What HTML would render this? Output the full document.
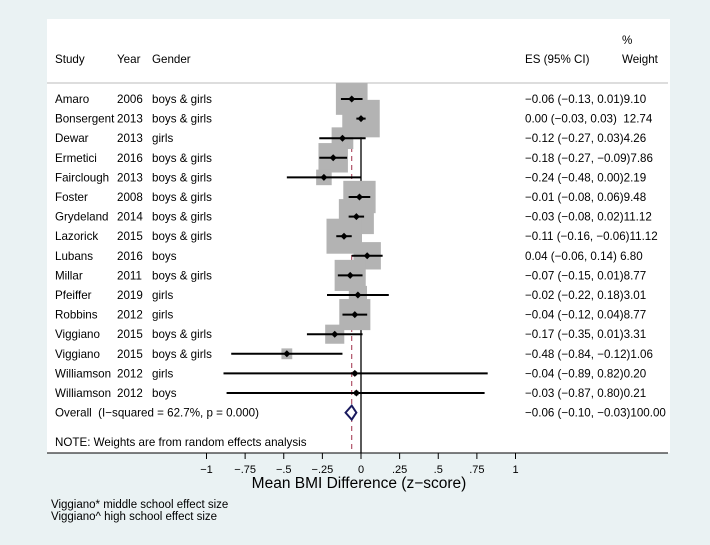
<!DOCTYPE html>
<html><head><meta charset="utf-8">
<style>
html,body{margin:0;padding:0;background:#eaf2f3;}
svg{display:block;font-family:"Liberation Sans",Arial,sans-serif;}
svg text{white-space:pre;}
</style></head>
<body>
<svg id="chart" width="710" height="545" viewBox="0 0 710 545">
<rect x="0" y="0" width="710" height="545" fill="#eaf2f3"/>
<rect x="47" y="19" width="623" height="434" fill="#ffffff"/>
<line x1="47" y1="83" x2="668" y2="83" stroke="#bbbbbb" stroke-width="1"/>
<g font-size="11.6" fill="#000">
<text x="55" y="63">Study</text>
<text x="117" y="63">Year</text>
<text x="152" y="63">Gender</text>
<text x="525" y="63">ES (95% CI)</text>
<text x="622" y="44">%</text>
<text x="622" y="63">Weight</text>
</g>
<g id="rows"></g>
<g id="marks"></g>
<line x1="47" y1="453" x2="668" y2="453" stroke="#000" stroke-width="1"/>
<g id="ticks"></g>
<text x="359" y="488" font-size="15.5" text-anchor="middle">Mean BMI Difference (z−score)</text>
<text x="51" y="508" font-size="11.5">Viggiano* middle school effect size</text>
<text x="51" y="520" font-size="11.5">Viggiano^ high school effect size</text>
</svg>
<script>
const studies=["Amaro","Bonsergent","Dewar","Ermetici","Fairclough","Foster","Grydeland","Lazorick","Lubans","Millar","Pfeiffer","Robbins","Viggiano","Viggiano","Williamson","Williamson"];
const years=["2006","2013","2013","2016","2013","2008","2014","2015","2016","2011","2019","2012","2015","2015","2012","2012"];
const genders=["boys & girls","boys & girls","girls","boys & girls","boys & girls","boys & girls","boys & girls","boys & girls","boys","boys & girls","girls","girls","boys & girls","boys & girls","girls","boys"];
const es=[-0.06,0.00,-0.12,-0.18,-0.24,-0.01,-0.03,-0.11,0.04,-0.07,-0.02,-0.04,-0.17,-0.48,-0.04,-0.03];
const lo=[-0.13,-0.03,-0.27,-0.27,-0.48,-0.08,-0.08,-0.16,-0.06,-0.15,-0.22,-0.12,-0.35,-0.84,-0.89,-0.87];
const hi=[0.01,0.03,0.03,-0.09,-0.00,0.06,0.02,-0.06,0.14,0.01,0.18,0.04,0.01,-0.12,0.82,0.80];
const weights=[9.10,12.74,4.26,7.86,2.19,9.48,11.12,11.12,6.80,8.77,3.01,8.77,3.31,1.06,0.20,0.21];
const overall=[-0.06,-0.10,-0.03];
const ticks=[-1,-0.75,-0.5,-0.25,0,0.25,0.5,0.75,1];
const tickLabels=["−1","−.75","−.5","−.25","0",".25",".5",".75","1"];
const NS="http://www.w3.org/2000/svg";
const xs=v=>361+v*154.5;
const ys=i=>99+i*19.6;
function el(tag,attrs,parent,text){const e=document.createElementNS(NS,tag);for(const k in attrs)e.setAttribute(k,attrs[k]);if(text!==undefined)e.textContent=text;parent.appendChild(e);return e;}
const fmt=v=>(v<0?"−":"")+Math.abs(v).toFixed(2);
const rows=document.getElementById('rows'),marks=document.getElementById('marks'),tk=document.getElementById('ticks');
const FS=11.6;
studies.forEach((s,i)=>{
  const y=ys(i)+4;
  let t=el('text',{x:55,y:y,'font-size':FS},rows,s);
  
  t=el('text',{x:117,y:y,'font-size':FS},rows,years[i]);
  
  t=el('text',{x:152,y:y,'font-size':FS},rows,genders[i]);
  
  const ci=fmt(es[i])+" ("+fmt(lo[i])+", "+fmt(hi[i])+")";
  const pad=es[i]>=0?(weights[i]>=10?"  ":" "):"";
  t=el('text',{x:525,y:y,'font-size':FS},rows,ci+pad+weights[i].toFixed(2));
  
});
let z=el('line',{x1:xs(0),y1:84,x2:xs(0),y2:453,stroke:'#000','stroke-width':1.3},marks);

z=el('line',{x1:xs(overall[0]),y1:84,x2:xs(overall[0]),y2:453,stroke:'#a0304a','stroke-width':1,'stroke-dasharray':'5,4'},marks);

studies.forEach((s,i)=>{
  const sz=10.5*Math.sqrt(weights[i]);
  const b=el('rect',{x:xs(es[i])-sz/2,y:ys(i)-sz/2,width:sz,height:sz,fill:'#b3b3b3'},marks);
  
});
studies.forEach((s,i)=>{
  const l=el('line',{x1:xs(lo[i]),y1:ys(i),x2:xs(hi[i]),y2:ys(i),stroke:'#000','stroke-width':2},marks);
  
  const x=xs(es[i]),y=ys(i);
  const d=el('polygon',{points:`${x},${y-3.5} ${x+3.5},${y} ${x},${y+3.5} ${x-3.5},${y}`,fill:'#000'},marks);
  
});
const oy=ys(16);
let t=el('text',{x:55,y:oy+4,'font-size':FS},rows,"Overall  (I−squared = 62.7%, p = 0.000)");

t=el('text',{x:525,y:oy+4,'font-size':FS},rows,fmt(overall[0])+" ("+fmt(overall[1])+", "+fmt(overall[2])+")100.00");

t=el('text',{x:55,y:ys(17.5)+4,'font-size':FS},rows,"NOTE: Weights are from random effects analysis");

const dia=el('polygon',{points:`${xs(overall[1])},${oy} ${xs(overall[0])},${oy-7} ${xs(overall[2])},${oy} ${xs(overall[0])},${oy+7}`,fill:'#fff',stroke:'#1a1a5e','stroke-width':2},marks);

ticks.forEach((v,i)=>{
  const l=el('line',{x1:xs(v),y1:453,x2:xs(v),y2:459,stroke:'#000','stroke-width':1},tk);
  
  const tx=el('text',{x:xs(v),y:473,'font-size':11,'text-anchor':'middle'},tk,tickLabels[i]);
  
});
</script>
</body></html>
